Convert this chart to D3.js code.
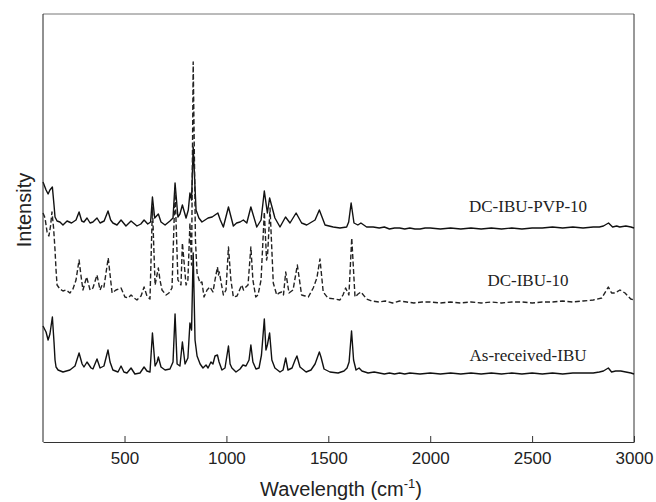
<!DOCTYPE html>
<html>
<head>
<meta charset="utf-8">
<script src="https://cdn.jsdelivr.net/npm/d3@7"></script>
<style>
  body { margin: 0; background: #fff; }
  svg { display: block; }
  .tick-label { font-family: Arial, "Liberation Sans", sans-serif; font-size: 17px; fill: #222; }
  .axis-title { font-family: Arial, "Liberation Sans", sans-serif; font-size: 20px; fill: #222; }
  .series-label { font-family: "Times New Roman", "Liberation Serif", serif; font-size: 17px; fill: #222; }
</style>
</head>
<body>
<svg id="chart" width="656" height="502"></svg>
<script>
// [wavenumber (cm-1), intensity (a.u., stacked)]
const dcIbuPvp10 = [
  [100, 260], [115, 252], [125, 248], [134, 252], [146, 255], [154, 237], [159, 225], [169, 221],
  [183, 220], [198, 217], [218, 221], [240, 219], [262, 222], [277, 230], [290, 221], [301, 220],
  [316, 224], [331, 219], [345, 220], [365, 224], [380, 219], [400, 221], [419, 231], [432, 222],
  [443, 219], [463, 217], [483, 222], [507, 216], [532, 221], [561, 216], [580, 218], [596, 222],
  [614, 218], [628, 220], [637, 245], [648, 224], [666, 228], [679, 220], [699, 217], [723, 221],
  [738, 224], [748, 259], [762, 225], [772, 228], [784, 237], [802, 224], [813, 232], [821, 249],
  [829, 242], [837, 295], [851, 232], [865, 224], [880, 220], [895, 222], [910, 224], [930, 225],
  [944, 227], [958, 229], [970, 222], [985, 215], [1010, 235], [1034, 216], [1050, 219], [1067, 220],
  [1083, 222], [1100, 219], [1120, 235], [1149, 215], [1170, 222], [1186, 251], [1201, 229], [1212, 244],
  [1238, 224], [1263, 215], [1290, 225], [1312, 219], [1342, 229], [1369, 219], [1394, 217], [1435, 222],
  [1456, 232], [1484, 217], [1524, 215], [1557, 214], [1590, 215], [1600, 220], [1612, 239], [1626, 219],
  [1645, 217], [1660, 219], [1688, 215], [1720, 215], [1750, 214], [1775, 215], [1800, 213], [1825, 214],
  [1850, 214], [1875, 213], [1900, 214], [1925, 213], [1950, 213], [1975, 214], [2000, 214], [2050, 213],
  [2100, 214], [2150, 213], [2200, 214], [2250, 213], [2300, 214], [2350, 213], [2400, 214], [2450, 213],
  [2500, 214], [2550, 214], [2600, 215], [2650, 214], [2700, 215], [2750, 214], [2800, 215], [2830, 215],
  [2850, 216], [2875, 219], [2895, 215], [2915, 216], [2930, 215], [2960, 216], [2985, 215], [3000, 214]
];

const dcIbu10 = [
  [100, 229], [110, 224], [120, 210], [129, 206], [137, 216], [144, 230], [152, 214], [159, 192],
  [164, 172], [169, 157], [183, 153], [198, 151], [213, 152], [232, 149], [247, 153], [262, 162],
  [277, 182], [286, 167], [296, 152], [314, 165], [331, 152], [345, 154], [365, 167], [380, 152],
  [390, 157], [399, 155], [420, 184], [439, 149], [458, 152], [483, 154], [502, 145], [517, 144],
  [532, 147], [547, 144], [561, 142], [581, 146], [596, 155], [610, 146], [625, 143], [637, 235],
  [650, 157], [666, 174], [674, 162], [684, 152], [704, 147], [718, 149], [733, 154], [748, 252],
  [762, 162], [777, 157], [784, 199], [802, 157], [811, 162], [821, 219], [829, 177], [837, 380],
  [848, 202], [856, 169], [870, 159], [880, 160], [890, 145], [905, 152], [919, 155], [934, 150],
  [944, 162], [956, 175], [961, 167], [965, 170], [985, 147], [998, 152], [1010, 195], [1022, 162],
  [1034, 145], [1052, 146], [1075, 157], [1084, 152], [1091, 154], [1106, 157], [1120, 195], [1130, 162],
  [1144, 145], [1155, 147], [1170, 162], [1186, 230], [1197, 182], [1202, 187], [1214, 234], [1230, 159],
  [1247, 147], [1258, 149], [1271, 150], [1280, 147], [1291, 170], [1307, 149], [1327, 152], [1348, 177],
  [1369, 147], [1386, 146], [1402, 145], [1426, 154], [1444, 164], [1459, 183], [1475, 150], [1498, 144],
  [1533, 143], [1557, 142], [1572, 147], [1585, 154], [1601, 147], [1615, 204], [1631, 145], [1646, 148],
  [1660, 150], [1688, 143], [1714, 141], [1750, 140], [1780, 141], [1815, 139], [1850, 141], [1885, 140],
  [1920, 139], [1960, 140], [2000, 140], [2050, 139], [2100, 140], [2150, 139], [2200, 140], [2250, 139],
  [2300, 140], [2350, 139], [2400, 140], [2450, 140], [2500, 139], [2550, 140], [2600, 140], [2650, 141],
  [2700, 140], [2750, 141], [2800, 142], [2842, 144], [2874, 155], [2890, 149], [2907, 149], [2931, 152],
  [2956, 149], [2984, 143], [3000, 142]
];

const asReceivedIbu = [
  [100, 116], [115, 110], [125, 102], [134, 108], [146, 125], [154, 100], [159, 82], [164, 75],
  [174, 72], [198, 70], [232, 72], [257, 76], [277, 89], [292, 78], [301, 75], [316, 80],
  [336, 74], [345, 73], [365, 83], [380, 74], [399, 76], [419, 92], [429, 80], [443, 72],
  [468, 70], [483, 76], [497, 70], [512, 69], [532, 74], [551, 68], [576, 69], [596, 75],
  [610, 71], [625, 70], [637, 109], [650, 76], [660, 80], [666, 85], [679, 75], [699, 72],
  [723, 73], [738, 80], [748, 128], [758, 78], [772, 76], [784, 100], [797, 78], [811, 84],
  [821, 119], [829, 112], [837, 189], [846, 102], [856, 86], [871, 78], [885, 74], [900, 77],
  [910, 74], [924, 80], [934, 78], [944, 86], [956, 87], [964, 80], [978, 72], [993, 74],
  [1010, 96], [1018, 78], [1027, 74], [1047, 70], [1067, 73], [1081, 77], [1096, 76], [1111, 82],
  [1120, 97], [1130, 80], [1145, 73], [1160, 74], [1172, 87], [1186, 123], [1194, 92], [1201, 97],
  [1212, 109], [1223, 82], [1238, 74], [1263, 70], [1278, 72], [1291, 84], [1302, 72], [1322, 74],
  [1337, 82], [1346, 86], [1361, 75], [1391, 70], [1415, 72], [1435, 78], [1456, 90], [1464, 85],
  [1479, 73], [1508, 70], [1548, 69], [1577, 71], [1592, 74], [1602, 80], [1614, 111], [1624, 82],
  [1636, 72], [1651, 74], [1665, 71], [1695, 69], [1725, 70], [1750, 69], [1775, 68], [1800, 69],
  [1825, 68], [1850, 69], [1875, 68], [1900, 69], [1950, 68], [2000, 69], [2050, 68], [2100, 69],
  [2150, 68], [2200, 69], [2250, 68], [2300, 69], [2350, 68], [2400, 69], [2450, 68], [2500, 69],
  [2550, 68], [2600, 69], [2650, 68], [2700, 69], [2750, 69], [2800, 69], [2830, 70], [2850, 71],
  [2874, 74], [2890, 70], [2910, 71], [2935, 71], [2960, 70], [2985, 69], [3000, 68]
];

const seriesNames = ['DC-IBU-PVP-10', 'DC-IBU-10', 'As-received-IBU'];
const xTicks = [500, 1000, 1500, 2000, 2500, 3000];

const svg = d3.select('#chart');

const DIM = { left: 43, right: 634, top: 14, bottom: 442 };

const x = d3.scaleLinear().domain([100, 3000]).range([DIM.left, DIM.right]);
const y = d3.scaleLinear().domain([0, 428]).range([DIM.bottom, DIM.top]);

// frame
svg.append('line')
  .attr('x1', DIM.left).attr('x2', DIM.right).attr('y1', DIM.top).attr('y2', DIM.top)
  .attr('stroke', '#777').attr('stroke-width', 1);
svg.append('line')
  .attr('x1', DIM.right).attr('x2', DIM.right).attr('y1', DIM.top).attr('y2', DIM.bottom)
  .attr('stroke', '#333').attr('stroke-width', 1);

// spectra
const line = d3.line().x(d => x(d[0])).y(d => y(d[1]));
const series = [
  { data: dcIbuPvp10, dash: null },
  { data: dcIbu10, dash: '5,2.5' },
  { data: asReceivedIbu, dash: null }
];
svg.append('g').selectAll('path')
  .data(series)
  .join('path')
  .attr('d', d => line(d.data))
  .attr('fill', 'none')
  .attr('stroke', d => d.dash ? '#222' : '#111')
  .attr('stroke-width', 1.4)
  .attr('stroke-linejoin', 'round')
  .attr('stroke-dasharray', d => d.dash);

// axes (ticks inside)
const xAxis = d3.axisBottom(x)
  .tickValues(xTicks)
  .tickFormat(d3.format('d'))
  .tickSizeInner(-6)
  .tickSizeOuter(0)
  .tickPadding(10);
const gx = svg.append('g')
  .attr('transform', `translate(0, ${DIM.bottom})`)
  .call(xAxis);
gx.select('.domain').attr('stroke', '#333');
gx.selectAll('.tick line').attr('stroke', '#333');
gx.selectAll('.tick text').attr('class', 'tick-label').attr('font-size', null).attr('font-family', null);

svg.append('line')
  .attr('x1', DIM.left).attr('x2', DIM.left).attr('y1', DIM.top).attr('y2', DIM.bottom)
  .attr('stroke', '#222').attr('stroke-width', 1);

// axis titles
const xt = svg.append('text')
  .attr('class', 'axis-title')
  .attr('x', 341).attr('y', 496)
  .attr('text-anchor', 'middle');
xt.append('tspan').text('Wavelength (cm');
xt.append('tspan').text('-1').attr('font-size', 13).attr('dy', -8);
xt.append('tspan').text(')').attr('dy', 8);

svg.append('text')
  .attr('class', 'axis-title')
  .attr('transform', 'translate(31, 210) rotate(-90)')
  .attr('text-anchor', 'middle')
  .text('Intensity');

// series labels
const labelY = [230, 156, 81];
svg.append('g').selectAll('text')
  .data(seriesNames)
  .join('text')
  .attr('class', 'series-label')
  .attr('x', x(2480))
  .attr('y', (d, i) => y(labelY[i]))
  .attr('text-anchor', 'middle')
  .text(d => d);
</script>
</body>
</html>
